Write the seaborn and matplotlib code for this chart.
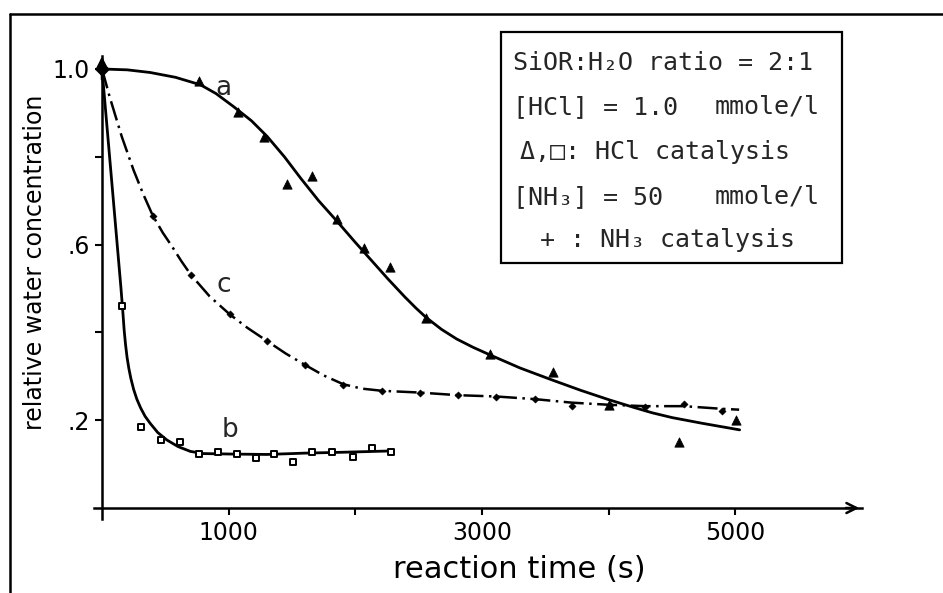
import matplotlib
matplotlib.use("Agg")
import matplotlib.pyplot as plt
import seaborn as sns
from matplotlib.lines import Line2D
from matplotlib.patches import Rectangle

# --- values ---
# curve a : HCl catalysis, triangles
a_time = [769, 1072, 1278, 1463, 1661, 1859, 2070, 2274, 2559, 3061, 3562, 4000, 4553, 5002]
a_conc = [0.973, 0.901, 0.844, 0.738, 0.756, 0.658, 0.593, 0.548, 0.432, 0.351, 0.310, 0.235, 0.151, 0.200]
a_fit_time = [0, 200, 380, 580, 777, 900, 1040, 1180, 1305, 1440, 1569, 1710, 1859, 2000, 2124,
              2260, 2390, 2480, 2559, 2680, 2800, 2930, 3061, 3300, 3550, 3780, 3998, 4200, 4342, 4500, 4738, 5034]
a_fit_conc = [1.0, 0.998, 0.992, 0.981, 0.964, 0.944, 0.914, 0.882, 0.846, 0.800, 0.751, 0.700, 0.652, 0.605, 0.565,
              0.521, 0.481, 0.455, 0.434, 0.407, 0.385, 0.366, 0.349, 0.319, 0.292, 0.268, 0.247, 0.229, 0.217, 0.206, 0.193, 0.178]

# curve b : HCl catalysis, squares
b_time = [158, 309, 465, 613, 763, 914, 1067, 1217, 1357, 1508, 1661, 1812, 1978, 2128, 2282]
b_conc = [0.460, 0.184, 0.156, 0.150, 0.123, 0.128, 0.122, 0.113, 0.123, 0.105, 0.127, 0.127, 0.117, 0.137, 0.128]
b_fit_time = [0, 60, 120, 150, 165, 175, 186, 198, 212, 228, 250, 275, 305, 340, 380, 440, 512, 600, 697, 800,
              1000, 1300, 1600, 1900, 2282]
b_fit_conc = [1.0, 0.80, 0.60, 0.50, 0.445, 0.405, 0.372, 0.343, 0.318, 0.295, 0.270, 0.248, 0.228, 0.209, 0.193, 0.172, 0.155,
              0.140, 0.129, 0.124, 0.123, 0.122, 0.125, 0.127, 0.130]

# curve c : NH3 catalysis
c_time = [401, 702, 1009, 1305, 1603, 1904, 2211, 2507, 2810, 3114, 3418, 3708, 4012, 4289, 4593, 4891]
c_conc = [0.666, 0.531, 0.441, 0.380, 0.326, 0.280, 0.267, 0.263, 0.257, 0.254, 0.248, 0.232, 0.235, 0.229, 0.238, 0.221]
c_fit_time = [0, 60, 156, 250, 327, 401, 480, 550, 625, 702, 850, 1009, 1150, 1305, 1450, 1603, 1750, 1904, 2050,
              2211, 2507, 2810, 3114, 3418, 3708, 4012, 4289, 4593, 4891, 5030]
c_fit_conc = [1.0, 0.937, 0.846, 0.769, 0.714, 0.666, 0.627, 0.597, 0.563, 0.531, 0.482, 0.441, 0.410, 0.380, 0.352, 0.326,
              0.302, 0.282, 0.272, 0.267, 0.263, 0.257, 0.254, 0.248, 0.240, 0.235, 0.232, 0.232, 0.226, 0.224]

start_time = [0]
start_conc = [1.0]

x_ticks = [1000, 2000, 3000, 4000, 5000]
x_ticklabels = ["1000", "", "3000", "", "5000"]
y_ticks = [0.2, 0.4, 0.6, 0.8, 1.0]
y_ticklabels = [".2", "", ".6", "", "1.0"]

legend_lines = ["SiOR:H₂O ratio = 2:1", "[HCl] = 1.0", "Δ,□: HCl catalysis", "[NH₃] = 50", "+ : NH₃ catalysis"]

sns.set_style("ticks")
plt.rcParams["font.family"] = ["DejaVu Sans"]

fig = plt.figure(figsize=(9.43, 5.93), dpi=100)
ax = fig.add_axes([0.1001, 0.1248, 0.814, 0.7811])

# fitted curves
sns.lineplot(x=a_fit_time, y=a_fit_conc, ax=ax, color="k", lw=2, sort=False, estimator=None)
sns.lineplot(x=b_fit_time, y=b_fit_conc, ax=ax, color="k", lw=2, sort=False, estimator=None)
sns.lineplot(x=c_fit_time, y=c_fit_conc, ax=ax, color="k", lw=1.8, sort=False, estimator=None,
             linestyle=(0, (8, 2.2, 1, 2.2)))

# measured points
sns.scatterplot(x=a_time, y=a_conc, ax=ax, marker="^", s=45, color="k", edgecolor="k", zorder=4)
sns.scatterplot(x=b_time, y=b_conc, ax=ax, marker="s", s=22, color="white", edgecolor="k", linewidth=1.4, zorder=4)
sns.scatterplot(x=c_time, y=c_conc, ax=ax, marker="D", s=14, color="k", edgecolor="k", zorder=4)
sns.scatterplot(x=start_time, y=start_conc, ax=ax, marker="D", s=50, color="k", edgecolor="k", zorder=5)

# curve letters
ax.text(960, 0.957, "a", fontsize=19, ha="center", va="center")
ax.text(961, 0.508, "c", fontsize=19, ha="center", va="center")
ax.text(1014, 0.178, "b", fontsize=19, ha="center", va="center")

ax.set_xlim(-60, 6000)
ax.set_ylim(-0.025, 1.03)
for side in ["top", "right"]:
    ax.spines[side].set_visible(False)
ax.spines["left"].set_position(("data", 0))
ax.spines["bottom"].set_position(("data", 0))
ax.spines["left"].set_linewidth(1.8)
ax.spines["bottom"].set_linewidth(1.8)
ax.spines["left"].set_color("k")
ax.spines["bottom"].set_color("k")

# arrow heads on the axes
ax.annotate("", xy=(6000, 0), xytext=(5850, 0),
            arrowprops=dict(arrowstyle="->", lw=1.8, color="k", mutation_scale=18), annotation_clip=False)
ax.annotate("", xy=(0, 1.035), xytext=(0, 0.97),
            arrowprops=dict(arrowstyle="->", lw=1.8, color="k", mutation_scale=16), annotation_clip=False)

ax.set_xticks(x_ticks)
ax.set_xticklabels(x_ticklabels)
ax.set_yticks(y_ticks)
ax.set_yticklabels(y_ticklabels)
ax.tick_params(direction="out", length=5, width=1.5, labelsize=17, pad=4, colors="k")

ax.set_xlabel("reaction time (s)", fontsize=22, color="k")
ax.set_ylabel("relative water concentration", fontsize=17, color="k")
ax.xaxis.set_label_coords(0.554, -0.078)
ax.yaxis.set_label_coords(-0.062, 0.555)

# outer frame of the scan
fig.add_artist(Line2D([0.0106, 1.0], [0.976, 0.976], transform=fig.transFigure, color="k", lw=1.8))
fig.add_artist(Line2D([0.0106, 0.0106], [0.0, 0.976], transform=fig.transFigure, color="k", lw=1.8))

# text box
fig.add_artist(Rectangle((0.5313, 0.5565), 0.3616, 0.3895, transform=fig.transFigure,
                         fill=False, lw=1.6, ec="k"))
mono = ["DejaVu Sans Mono", "DejaVu Sans"]
line_x = [513, 513, 520, 513, 540]
line_y = [63, 107, 152, 197, 240]
for txt, px, py in zip(legend_lines, line_x, line_y):
    fig.text(px / 943, 1 - py / 593, txt, family=mono, fontsize=18, ha="left", va="center")
for py in [107, 197]:
    fig.text(820 / 943, 1 - py / 593, "mmole/l", family=mono, fontsize=18, ha="right", va="center")

fig.savefig("out.png", dpi=100)
